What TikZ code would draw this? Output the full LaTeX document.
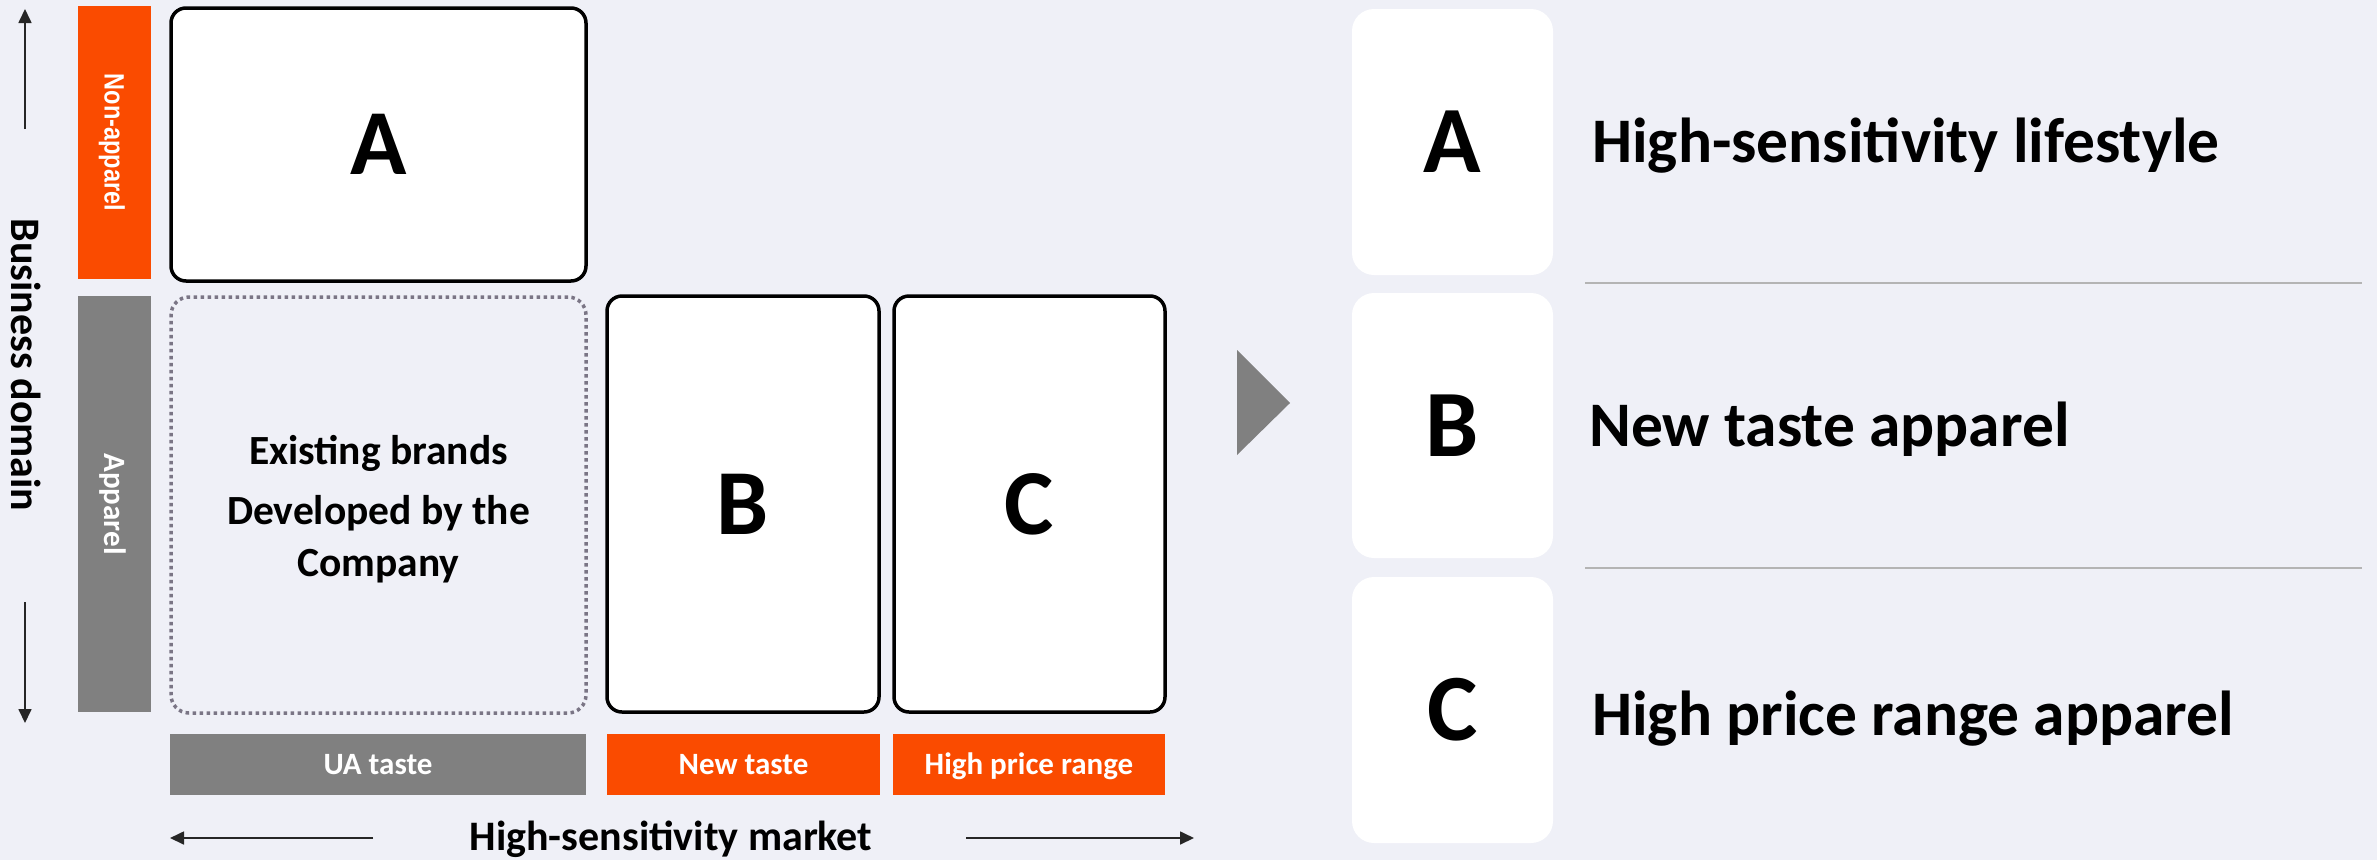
\documentclass[tikz,border=0pt]{standalone}
\usepackage{fontspec}
\setmainfont{Carlito}
\newfontfamily\arialfont{Liberation Sans}
\usetikzlibrary{arrows.meta}
\definecolor{bg}{HTML}{EFF0F7}
\definecolor{orng}{HTML}{FA4B00}
\definecolor{gry}{HTML}{808080}
\definecolor{dotc}{HTML}{7A7585}
\definecolor{sepc}{HTML}{B4B4B4}
\begin{document}
\begin{tikzpicture}[x=1pt,y=-1pt,
  bigbox/.style={draw=black, line width=3.5pt, rounded corners=15pt, fill=white, inner sep=0pt,
    font=\bfseries\fontsize{93}{100}\selectfont},
  dotbox/.style={draw=dotc, line width=3.5pt, dash pattern=on 3.5pt off 3.5pt, rounded corners=18pt, inner sep=0pt},
  card/.style={fill=white, rounded corners=22pt, inner sep=0pt, minimum width=201pt,
    font=\bfseries\fontsize{95}{100}\selectfont},
  bar/.style={inner sep=0pt, text=white, text height=19.6pt, text depth=0pt,
    font=\bfseries\fontsize{31}{36}\selectfont},
  sidebar/.style={inner sep=0pt, text=white, rotate=-90, minimum height=73pt, text depth=0pt},
  bigtext/.style={anchor=base west, inner sep=0pt, font=\bfseries\fontsize{63.5}{70}\selectfont},
  axis/.style={line width=1.7pt, draw=black!85, -{Triangle[length=14pt,width=13pt]}},
  axislabel/.style={inner sep=0pt, font=\bfseries\fontsize{42}{48}\selectfont},
  sepline/.style={draw=sepc, line width=2pt}]

% background
\fill[bg] (0,0) rectangle (2377,860);

% side bars
\node[sidebar, fill=orng, minimum width=273pt, text height=20pt] (nonapp) at (114.5,142.5)
  {\scalebox{0.84}[1]{\arialfont\bfseries\fontsize{28}{32}\selectfont Non-apparel}};
\node[sidebar, fill=gry, minimum width=416pt, text height=20pt] (app) at (114.5,504)
  {\bfseries\fontsize{31}{36}\selectfont Apparel};

% matrix boxes
\node[bigbox, minimum width=415pt, minimum height=273pt] (boxA) at (378.5,144.5) {A};
\node[dotbox, minimum width=415pt, minimum height=416pt] (exist) at (378.5,505) {};
\node[bigbox, minimum width=272pt, minimum height=416pt] (boxB) at (743,504) {B};
\node[bigbox, minimum width=271pt, minimum height=416pt] (boxC) at (1029.5,504) {C};

\node[inner sep=0pt, anchor=north, align=center, font=\bfseries\fontsize{41.5}{52}\selectfont]
  (existtxt) at (378.5,435) {Existing brands\\[8pt]Developed by the\\Company};

% bottom bars
\node[bar, fill=gry, minimum width=416pt, minimum height=61pt] (ua) at (378,764.5) {UA taste};
\node[bar, fill=orng, minimum width=273pt, minimum height=61pt] (newt) at (743.5,764.5) {New taste};
\node[bar, fill=orng, minimum width=272pt, minimum height=61pt] (highp) at (1029,764.5) {High price range};

% axes
\coordinate (upT) at (25,129);
\coordinate (upH) at (25,9);
\coordinate (dnT) at (25,602);
\coordinate (dnH) at (25,723);
\coordinate (lfT) at (373,838);
\coordinate (lfH) at (170,838);
\coordinate (rtT) at (966,838);
\coordinate (rtH) at (1194,838);
\draw[axis] (upT) -- (upH);
\draw[axis] (dnT) -- (dnH);
\draw[axis] (lfT) -- (lfH);
\draw[axis] (rtT) -- (rtH);
\node[axislabel, rotate=-90] (bdom) at (26,365) {Business domain};
\node[axislabel, anchor=base] (hsm) at (671,850) {High-sensitivity market};

% transition triangle
\fill[gry] (1237,350) -- (1290,403) -- (1237,455) -- cycle;

% right cards
\node[card, minimum height=266pt] (cardA) at (1452.5,142) {A};
\node[card, minimum height=265pt] (cardB) at (1452.5,425.5) {B};
\node[card, minimum height=266pt] (cardC) at (1452.5,710) {C};

\node[bigtext] (txtA) at (1592,162) {High-sensitivity lifestyle};
\node[bigtext] (txtB) at (1589,446) {New taste apparel};
\node[bigtext] (txtC) at (1592,735) {High price range apparel};

\coordinate (s1a) at (1585,283);
\coordinate (s1b) at (2362,283);
\coordinate (s2a) at (1585,568);
\coordinate (s2b) at (2362,568);
\draw[sepline] (s1a) -- (s1b);
\draw[sepline] (s2a) -- (s2b);
\end{tikzpicture}
\end{document}
